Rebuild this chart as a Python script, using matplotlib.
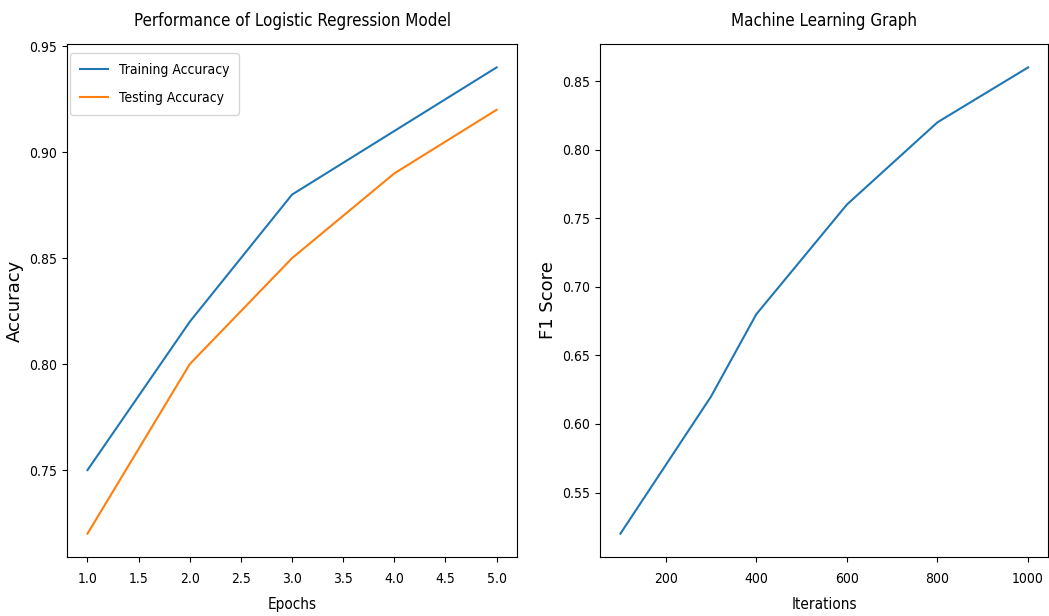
import matplotlib
matplotlib.use("Agg")
import matplotlib.pyplot as plt

# Left chart: accuracy per epoch
epochs = [1, 2, 3, 4, 5]
train_acc = [0.75, 0.82, 0.88, 0.91, 0.94]
test_acc = [0.72, 0.80, 0.85, 0.89, 0.92]

# Right chart: F1 score per iteration count
iterations = [100, 200, 300, 400, 600, 800, 1000]
f1_scores = [0.52, 0.57, 0.62, 0.68, 0.76, 0.82, 0.86]

# the reference looks squeezed sideways, so use the narrow DejaVu cut
plt.rcParams['font.stretch'] = 'condensed'
plt.rcParams['xtick.major.pad'] = 7

fig = plt.figure(figsize=(10.49, 6.16), dpi=100)
ax1 = fig.add_axes([0.0639, 0.0958, 0.429, 0.8326])
ax2 = fig.add_axes([0.572, 0.0958, 0.4275, 0.8326])

ax1.plot(epochs, train_acc, label="Training Accuracy")
ax1.plot(epochs, test_acc, label="Testing Accuracy")
ax1.set_xlabel("Epochs", fontsize=11, labelpad=8)
ax1.set_ylabel("Accuracy", fontsize=13, fontstretch='normal', labelpad=4)
ax1.set_title("Performance of Logistic Regression Model", fontsize=12.2, pad=13)
ax1.legend(loc="upper left", bbox_to_anchor=(0.007, 0.982), borderaxespad=0,
           labelspacing=1.0, borderpad=0.7)

ax2.plot(iterations, f1_scores)
ax2.set_xlabel("Iterations", fontsize=11, labelpad=8)
ax2.set_ylabel("F1 Score", fontsize=13, fontstretch='normal', labelpad=4)
ax2.set_title("Machine Learning Graph", fontsize=12.2, pad=13)

fig.savefig("out.png", dpi=100)
